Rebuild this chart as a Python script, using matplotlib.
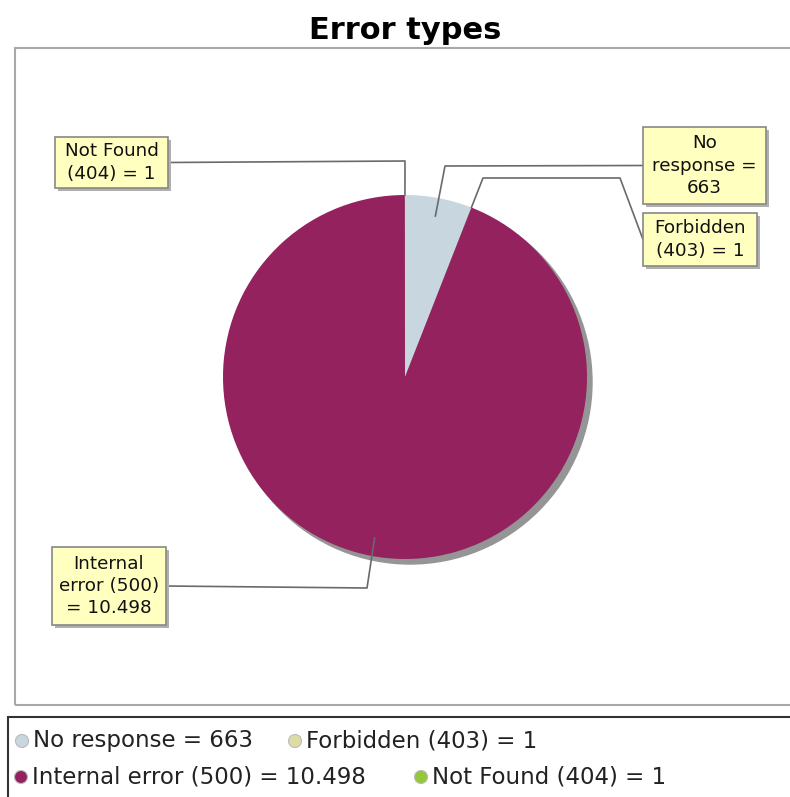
import matplotlib
matplotlib.use("Agg")
import matplotlib.pyplot as plt
from matplotlib.patches import Rectangle
import numpy as np

# ---- data ----
categories = ["No response", "Forbidden (403)", "Internal error (500)", "Not Found (404)"]
values = [663, 1, 10498, 1]
value_labels = ["663", "1", "10.498", "1"]
colors = ["#c7d6df", "#dcdca4", "#93225e", "#93c83a"]
title = "Error types"

W, H = 790, 797
fig = plt.figure(figsize=(W / 100, H / 100), dpi=100)
ax = fig.add_axes([0, 0, 1, 1])

def Y(y):
    return H - y

# title
ax.text(405, Y(30), title, ha="center", va="center", fontsize=22, fontweight="bold",
        family="DejaVu Sans")

# plot frame
ax.add_patch(Rectangle((15, Y(705)), 800, 657, fill=False, edgecolor="#a8a8a8", lw=1.5))

# pie
cx, cy, R = 405, Y(377), 182
ax.add_patch(plt.Circle((cx + 5, cy - 5), R, color="#959595", zorder=1))
wedges, _ = ax.pie(values, colors=colors, startangle=90, counterclock=False,
                   center=(cx, cy), radius=R, frame=False,
                   wedgeprops=dict(linewidth=0), normalize=True)
for w in wedges:
    w.set_zorder(2)
ax.set_xlim(0, W)
ax.set_ylim(0, H)
ax.set_aspect("auto")
ax.axis("off")

total = float(sum(values))
angles = []
acc = 0.0
for v in values:
    mid = acc + v / 2.0
    angles.append(mid / total * 360.0)
    acc += v

def anchor(i, frac):
    a = np.deg2rad(angles[i])
    return cx + frac * R * np.sin(a), cy + frac * R * np.cos(a)

label_texts = ["No\nresponse =\n663", "Forbidden\n(403) = 1", "Internal\nerror (500)\n= 10.498",
               "Not Found\n(404) = 1"]
boxes = [
    (643, 127, 123, 77, "left", (445, 166)),
    (643, 213, 114, 53, "left", (483, 178)),
    (52, 547, 114, 78, "right", (367, 588)),
    (55, 137, 113, 51, "right", (405, 161)),
]
fracs = [0.9, 1.0, 0.9, 1.0]

for i, (x0, yt, bw, bh, side, elbow) in enumerate(boxes):
    ex, ey = elbow[0], Y(elbow[1])
    axp, ayp = anchor(i, fracs[i])
    bx = x0 if side == "left" else x0 + bw
    by = Y(yt + bh / 2)
    if i == 1:
        ax.plot([axp, ex, 620, bx], [ayp, ey, ey, by], color="#6a6a6a", lw=1.2, zorder=3)
    else:
        ax.plot([axp, ex, bx], [ayp, ey, by], color="#6a6a6a", lw=1.2, zorder=3)
    ax.add_patch(Rectangle((x0 + 3, Y(yt + bh) - 3), bw, bh, facecolor="#b0b0b0",
                           edgecolor="none", zorder=4))
    ax.add_patch(Rectangle((x0, Y(yt + bh)), bw, bh, facecolor="#ffffc0",
                           edgecolor="#888888", lw=1.2, zorder=5))
    ax.text(x0 + bw / 2, Y(yt + bh / 2), label_texts[i], ha="center", va="center",
            fontsize=13.2, linespacing=1.3, zorder=6, color="#111111")

# legend frame
ax.add_patch(Rectangle((8, Y(800)), 800, 83, fill=False, edgecolor="#333333", lw=1.5))
legend_pos = [(22, 741), (295, 741), (21, 777), (421, 777)]
for i, (lx, ly) in enumerate(legend_pos):
    ax.add_patch(plt.Circle((lx, Y(ly)), 6.5, facecolor=colors[i], edgecolor="#bbbbbb", lw=0.8))
    ax.text(lx + 11, Y(ly), f"{categories[i]} = {value_labels[i]}", ha="left", va="center",
            fontsize=16.5, color="#222222")

fig.savefig("out.png", dpi=100)
